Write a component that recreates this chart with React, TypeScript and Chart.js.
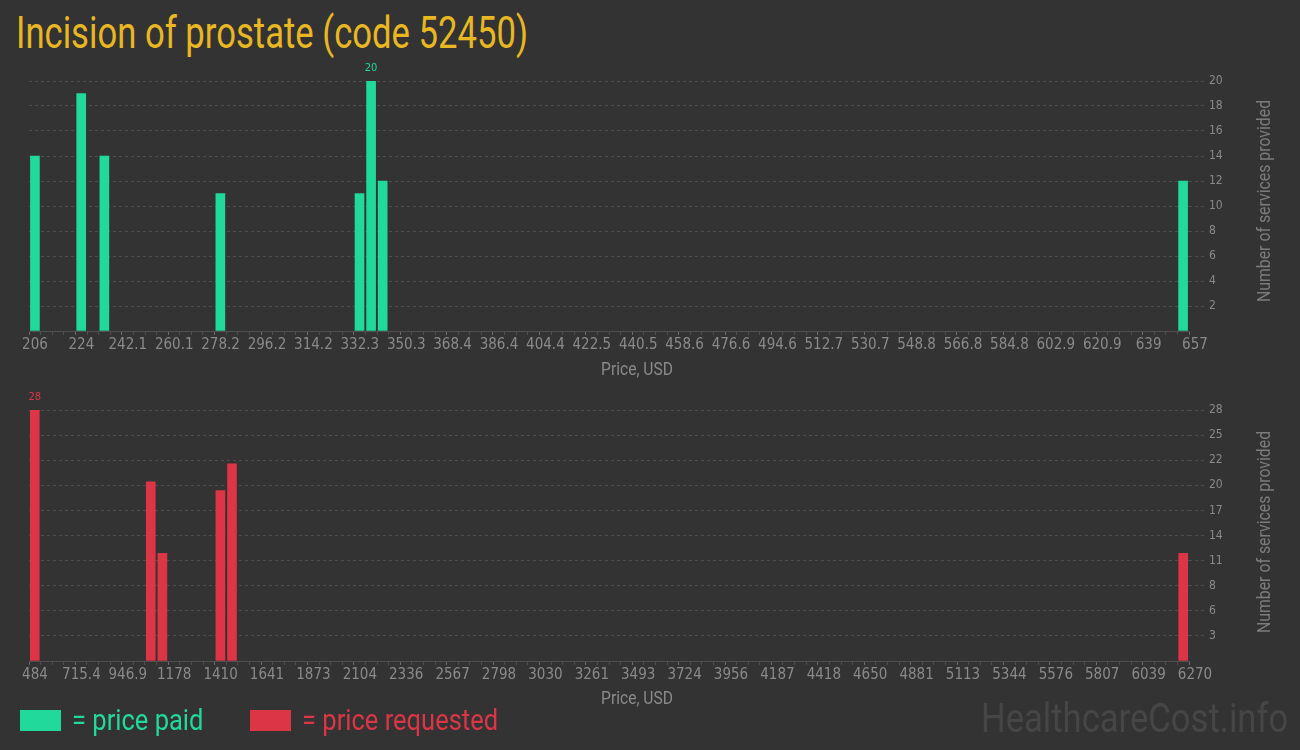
import React, { useEffect, useRef } from "react";
import { Chart, registerables } from "chart.js";

Chart.register(...registerables);

// ---- data ----
const paidPrices = [208.3, 226.3, 235.3, 280.4, 334.5, 339.0, 343.5, 654.7];
const paidCounts = [14, 19, 14, 11, 11, 20, 12, 12];
const paidTickLabels = [
  "206", "224", "242.1", "260.1", "278.2", "296.2", "314.2", "332.3", "350.3",
  "368.4", "386.4", "404.4", "422.5", "440.5", "458.6", "476.6", "494.6",
  "512.7", "530.7", "548.8", "566.8", "584.8", "602.9", "620.9", "639", "657",
];
const paidYTicks = [0, 2, 4, 6, 8, 10, 12, 14, 16, 18, 20];
const paidYLabels = ["", "2", "4", "6", "8", "10", "12", "14", "16", "18", "20"];

const requestedPrices = [512.9, 1091.5, 1149.3, 1438.7, 1496.6, 6241.1];
const requestedCounts = [28, 20, 12, 19, 22, 12];
const requestedTickLabels = [
  "484", "715.4", "946.9", "1178", "1410", "1641", "1873", "2104", "2336",
  "2567", "2798", "3030", "3261", "3493", "3724", "3956", "4187", "4418",
  "4650", "4881", "5113", "5344", "5576", "5807", "6039", "6270",
];
const requestedYTicks = [0, 2.8, 5.6, 8.4, 11.2, 14, 16.8, 19.6, 22.4, 25.2, 28];
const requestedYLabels = ["", "3", "6", "8", "11", "14", "17", "20", "22", "25", "28"];

const BINS = 100;

// ---- styles ----
const BG = "#333333";
const GREEN = "#21d99b";
const RED = "#dc3545";
const GOLD = "#e8b722";
const TICK = "#8a8a8a";
const GRID = "#4e4e4e";
const NARROW = "'Liberation Sans Narrow', 'DejaVu Sans Condensed', 'Roboto', sans-serif";

const valueLabelPlugin = {
  id: "valueLabel",
  afterDatasetsDraw(chart: any) {
    const ds = chart.data.datasets[0];
    const meta = chart.getDatasetMeta(0);
    let mi = 0;
    ds.data.forEach((d: any, i: number) => {
      if (d.y > ds.data[mi].y) mi = i;
    });
    const el = meta.data[mi];
    const ctx = chart.ctx;
    ctx.save();
    ctx.fillStyle = ds.backgroundColor;
    ctx.font = `11px ${NARROW}`;
    ctx.textAlign = "center";
    ctx.textBaseline = "middle";
    ctx.fillText(String(ds.data[mi].y), el.x, el.y - 13);
    ctx.restore();
  },
};

function HistChart(props: {
  prices: number[];
  counts: number[];
  tickLabels: string[];
  yTicks: number[];
  yLabels: string[];
  color: string;
  top: number;
  padTop: number;
}) {
  const ref = useRef<HTMLCanvasElement | null>(null);
  useEffect(() => {
    if (!ref.current) return;
    const { prices, counts, tickLabels, yTicks, yLabels, color, padTop } = props;
    const xmin = Number(tickLabels[0]);
    const xmax = Number(tickLabels[tickLabels.length - 1]);
    const edges: number[] = [];
    for (let i = 0; i <= BINS; i++) edges.push(xmin + ((xmax - xmin) * i) / BINS);
    const ymax = yTicks[yTicks.length - 1];

    const chart = new Chart(ref.current, {
      type: "bar",
      data: {
        datasets: [
          {
            data: prices.map((x, i) => ({ x, y: counts[i] })),
            backgroundColor: color,
            borderWidth: 0,
            barThickness: 9,
          } as any,
        ],
      },
      plugins: [valueLabelPlugin],
      options: {
        animation: false,
        responsive: false,
        events: [],
        layout: { padding: { top: padTop, left: 29, right: 0, bottom: 0 } },
        plugins: { legend: { display: false }, tooltip: { enabled: false } },
        scales: {
          x: {
            type: "linear",
            min: xmin,
            max: xmax,
            offset: false,
            afterBuildTicks: (scale: any) => {
              scale.ticks = edges.map((v) => ({ value: v }));
            },
            afterFit: (scale: any) => {
              scale.height = 54;
            },
            ticks: {
              autoSkip: false,
              maxRotation: 0,
              minRotation: 0,
              labelOffset: 6,
              padding: 1,
              color: TICK,
              font: { family: NARROW, size: 15 },
              callback: (_v: any, i: number) => (i % 4 === 0 ? tickLabels[i / 4] : ""),
            },
            grid: {
              offset: false,
              drawOnChartArea: false,
              drawTicks: true,
              tickLength: 4,
              tickColor: (c: any) => (c.index % 4 === 0 ? "#6a6a6a" : "#4e4e4e"),
            },
            border: { display: true, color: "#4f4f4f", width: 1 },
            title: { display: false },
          },
          y: {
            position: "right",
            min: 0,
            max: ymax,
            afterBuildTicks: (scale: any) => {
              scale.ticks = yTicks.map((v) => ({ value: v }));
            },
            afterFit: (scale: any) => {
              scale.width = 111;
            },
            ticks: {
              color: TICK,
              padding: 3,
              font: { family: NARROW, size: 12 },
              callback: (_v: any, i: number) => yLabels[i],
            },
            grid: {
              color: (c: any) => (c.tick && c.tick.value === 0 ? "rgba(0,0,0,0)" : GRID),
              tickColor: (c: any) => (c.tick && c.tick.value === 0 ? "rgba(0,0,0,0)" : GRID),
              tickBorderDash: [3, 3],
              tickLength: 17,
              lineWidth: 1,
            },
            border: { display: false, dash: [3, 3] },
          },
        },
      } as any,
    });
    return () => chart.destroy();
  }, []);
  return (
    <canvas
      ref={ref}
      width={1300}
      height={330}
      style={{ position: "absolute", left: 0, top: props.top, width: 1300, height: 330, display: "block" }}
    />
  );
}

const yTitleStyle = (cy: number): React.CSSProperties => ({
  position: "absolute",
  left: 1264,
  top: cy,
  transform: "translate(-50%, -50%) rotate(-90deg) scaleX(0.88)",
  fontFamily: "Roboto, sans-serif",
  fontSize: 18,
  lineHeight: "18px",
  color: "#7c7c7c",
  whiteSpace: "nowrap",
});

const xTitleStyle = (cy: number): React.CSSProperties => ({
  position: "absolute",
  left: 637,
  top: cy,
  transform: "translate(-50%, -50%) scaleX(0.82)",
  fontFamily: "Roboto, sans-serif",
  fontSize: 19,
  lineHeight: "19px",
  color: "#8a8a8a",
  whiteSpace: "nowrap",
});

export default function App() {
  return (
    <div
      style={{
        position: "absolute",
        left: 0,
        top: 0,
        width: 1300,
        height: 750,
        background: BG,
        overflow: "hidden",
        fontFamily: "Roboto, sans-serif",
      }}
    >
      <div
        style={{
          position: "absolute",
          left: 16,
          top: 10,
          fontSize: 45,
          lineHeight: "45px",
          color: GOLD,
          whiteSpace: "nowrap",
          transform: "scaleX(0.77)",
          transformOrigin: "left top",
        }}
      >
        Incision of prostate (code 52450)
      </div>

      <HistChart
        prices={paidPrices}
        counts={paidCounts}
        tickLabels={paidTickLabels}
        yTicks={paidYTicks}
        yLabels={paidYLabels}
        color={GREEN}
        top={55}
        padTop={26}
      />
      <HistChart
        prices={requestedPrices}
        counts={requestedCounts}
        tickLabels={requestedTickLabels}
        yTicks={requestedYTicks}
        yLabels={requestedYLabels}
        color={RED}
        top={385}
        padTop={25}
      />

      <div style={xTitleStyle(368)}>Price, USD</div>
      <div style={xTitleStyle(697)}>Price, USD</div>

      <div style={yTitleStyle(201)}>Number of services provided</div>
      <div style={yTitleStyle(532)}>Number of services provided</div>

      <div style={{ position: "absolute", left: 20, top: 710, width: 41, height: 21, background: GREEN }} />
      <div
        style={{
          position: "absolute",
          left: 72,
          top: 705,
          fontSize: 30,
          lineHeight: "30px",
          color: GREEN,
          whiteSpace: "nowrap",
          transform: "scaleX(0.85)",
          transformOrigin: "left top",
        }}
      >
        = price paid
      </div>
      <div style={{ position: "absolute", left: 250, top: 710, width: 41, height: 21, background: RED }} />
      <div
        style={{
          position: "absolute",
          left: 302,
          top: 705,
          fontSize: 30,
          lineHeight: "30px",
          color: RED,
          whiteSpace: "nowrap",
          transform: "scaleX(0.85)",
          transformOrigin: "left top",
        }}
      >
        = price requested
      </div>

      <div
        style={{
          position: "absolute",
          left: 981,
          top: 699,
          fontSize: 40,
          lineHeight: "40px",
          color: "#464646",
          whiteSpace: "nowrap",
          transform: "scaleX(0.865)",
          transformOrigin: "left top",
        }}
      >
        HealthcareCost.info
      </div>
    </div>
  );
}
